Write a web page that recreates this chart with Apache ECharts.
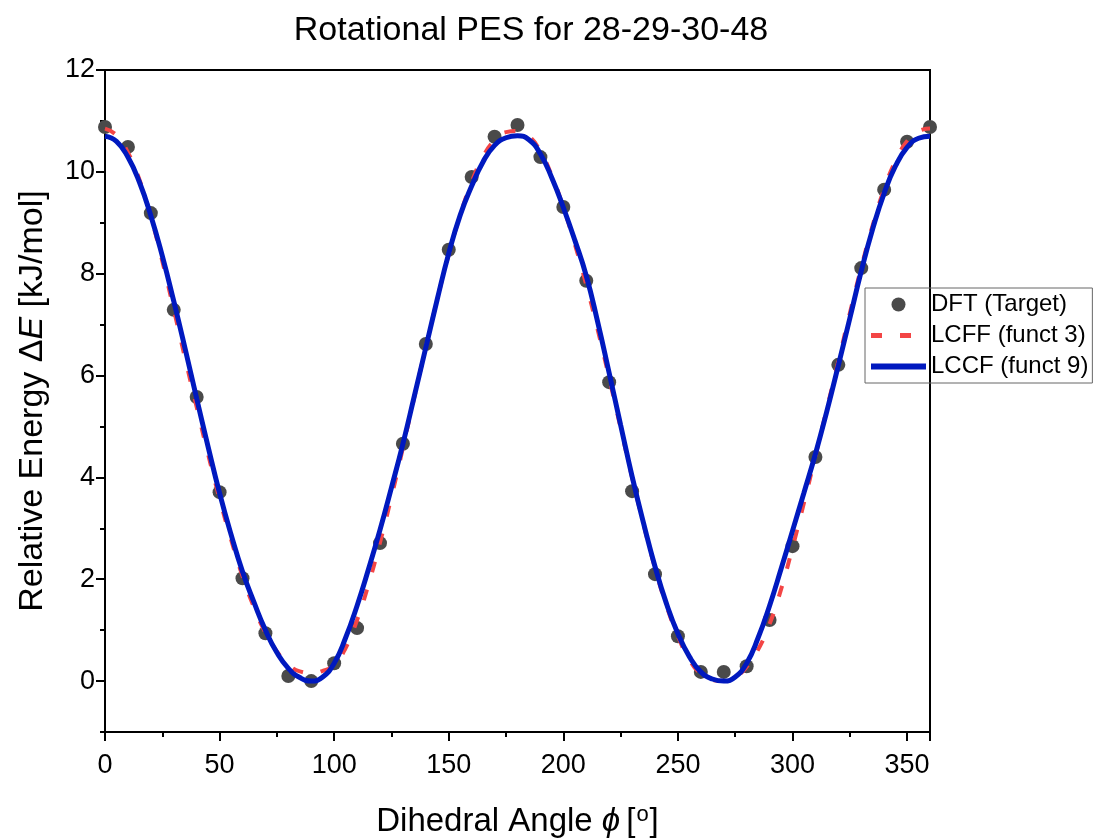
<!DOCTYPE html>
<html>
<head>
<meta charset="utf-8">
<script src="https://cdn.jsdelivr.net/npm/echarts@6/dist/echarts.min.js"></script>
<style>
  html, body { margin: 0; padding: 0; background: #fff; }
  #main { width: 1098px; height: 840px; }
</style>
</head>
<body>
<div id="main"></div>
<script>
// DFT scan, every 10 degrees
var dftAngles = [0, 10, 20, 30, 40, 50, 60, 70, 80, 90, 100, 110, 120, 130, 140, 150, 160, 170, 180,
  190, 200, 210, 220, 230, 240, 250, 260, 270, 280, 290, 300, 310, 320, 330, 340, 350, 360];
var dftEnergy = [10.88, 10.49, 9.19, 7.29, 5.58, 3.71, 2.02, 0.94, 0.10, 0.00, 0.35, 1.04, 2.71, 4.66, 6.62, 8.47, 9.90, 10.69, 10.92,
  10.29, 9.31, 7.86, 5.87, 3.73, 2.10, 0.88, 0.18, 0.18, 0.29, 1.20, 2.65, 4.40, 6.21, 8.11, 9.65, 10.59, 10.88];

// fitted curves, every 5 degrees
var fitAngles = [0, 5, 10, 15, 20, 25, 30, 35, 40, 45, 50, 55, 60, 65, 70, 75, 80, 85, 90,
  95, 100, 105, 110, 115, 120, 125, 130, 135, 140, 145, 150, 155, 160, 165, 170, 175, 180,
  185, 190, 195, 200, 205, 210, 215, 220, 225, 230, 235, 240, 245, 250, 255, 260, 265, 270,
  275, 280, 285, 290, 295, 300, 305, 310, 315, 320, 325, 330, 335, 340, 345, 350, 355, 360];
var lcff = [10.85, 10.72, 10.38, 9.85, 9.12, 8.25, 7.30, 6.33, 5.38, 4.45, 3.58, 2.78, 2.06, 1.45, 0.95, 0.58, 0.33, 0.19, 0.16,
  0.20, 0.32, 0.65, 1.20, 1.90, 2.72, 3.62, 4.58, 5.58, 6.56, 7.50, 8.38, 9.15, 9.80, 10.30, 10.62, 10.78, 10.80,
  10.70, 10.40, 9.92, 9.30, 8.58, 7.78, 6.90, 5.95, 4.97, 4.00, 3.08, 2.22, 1.48, 0.88, 0.42, 0.14, 0.02, 0.00,
  0.08, 0.28, 0.62, 1.12, 1.80, 2.62, 3.50, 4.42, 5.35, 6.28, 7.22, 8.12, 8.95, 9.66, 10.22, 10.60, 10.80, 10.85];
var lccf = [10.70, 10.60, 10.29, 9.80, 9.14, 8.35, 7.46, 6.52, 5.55, 4.60, 3.69, 2.88, 2.15, 1.55, 1.00, 0.56, 0.25, 0.07, 0.00,
  0.08, 0.35, 0.85, 1.48, 2.20, 2.97, 3.80, 4.66, 5.60, 6.55, 7.50, 8.40, 9.15, 9.72, 10.20, 10.52, 10.67, 10.71,
  10.63, 10.35, 9.88, 9.30, 8.66, 7.96, 7.05, 6.05, 5.03, 4.02, 3.10, 2.25, 1.52, 0.93, 0.48, 0.18, 0.04, 0.00,
  0.08, 0.35, 0.85, 1.48, 2.20, 2.95, 3.70, 4.46, 5.30, 6.20, 7.12, 8.05, 8.88, 9.58, 10.12, 10.48, 10.66, 10.70];

var yMajor = [0, 2, 4, 6, 8, 10, 12];
var yMinor = [-1, 1, 3, 5, 7, 9, 11];

function pairs(xs, ys) {
  return xs.map(function (x, i) { return [x, ys[i]]; });
}

var font = '"Liberation Sans", Arial, sans-serif';
var chart = echarts.init(document.getElementById('main'));

var option = {
  animation: false,
  textStyle: { fontFamily: font, color: '#000' },
  title: {
    text: 'Rotational PES for 28-29-30-48',
    left: 526,
    top: 9,
    textAlign: 'center',
    textStyle: { fontFamily: font, fontSize: 34, fontWeight: 'normal', color: '#000' }
  },
  grid: {
    left: 105, right: 168, top: 70, bottom: 108,
    outerBoundsMode: 'none',
    show: true, borderColor: '#000', borderWidth: 2, backgroundColor: 'transparent'
  },
  legend: {
    orient: 'vertical',
    left: 865,
    top: 288,
    itemWidth: 55,
    itemHeight: 14,
    itemGap: 6,
    padding: [4, 4, 4, 3],
    borderColor: '#666',
    borderWidth: 1,
    textStyle: { fontFamily: font, fontSize: 24, color: '#000', lineHeight: 25 },
    data: [
      { name: 'DFT (Target)', icon: 'circle' },
      { name: 'LCFF (funct 3)', itemStyle: { color: 'transparent', borderWidth: 0 },
        lineStyle: { width: 5, type: [11, 18] } },
      { name: 'LCCF (funct 9)', itemStyle: { color: 'transparent', borderWidth: 0 },
        lineStyle: { width: 6 } }
    ]
  },
  xAxis: {
    type: 'value',
    min: 0, max: 360, interval: 50,
    name: '{n|Dihedral Angle }{i|ϕ}{n|[}{s|o}{n|]}',
    nameLocation: 'middle',
    nameGap: 72,
    nameTextStyle: {
      rich: {
        n: { fontFamily: font, fontSize: 33, color: '#000' },
        i: { fontFamily: font, fontSize: 33, fontStyle: 'italic', color: '#000', padding: [0, 6, 0, 0] },
        s: { fontFamily: font, fontSize: 22, color: '#000', padding: [0, 1, 14, 1], verticalAlign: 'bottom' }
      }
    },
    axisLine: { show: true, onZero: false, lineStyle: { color: '#000', width: 2 } },
    axisTick: { show: true, length: 9, lineStyle: { color: '#000', width: 2 } },
    minorTick: { show: true, splitNumber: 2, length: 5, lineStyle: { color: '#000', width: 2 } },
    axisLabel: { fontFamily: font, fontSize: 27, color: '#000', margin: 20, showMaxLabel: false },
    splitLine: { show: false }
  },
  yAxis: [
    {
      type: 'value',
      min: -1, max: 12,
      position: 'left',
      name: '{n|Relative Energy }{n|Δ}{i|E}{n| [kJ/mol]}',
      nameLocation: 'middle',
      nameGap: 55,
      nameTextStyle: {
        rich: {
          n: { fontFamily: font, fontSize: 34, color: '#000' },
          i: { fontFamily: font, fontSize: 34, fontStyle: 'italic', color: '#000' }
        }
      },
      axisLine: { show: true, onZero: false, lineStyle: { color: '#000', width: 2 } },
      axisTick: { show: true, length: 9, customValues: yMajor, lineStyle: { color: '#000', width: 2 } },
      axisLabel: { fontFamily: font, fontSize: 27, color: '#000', margin: 10, customValues: yMajor },
      splitLine: { show: false }
    },
    {
      type: 'value',
      min: -1, max: 12,
      position: 'left',
      offset: 0,
      axisLine: { show: false },
      axisTick: { show: true, length: 5, customValues: yMinor, lineStyle: { color: '#000', width: 2 } },
      axisLabel: { show: false },
      splitLine: { show: false }
    }
  ],
  series: [
    {
      name: 'DFT (Target)',
      type: 'scatter',
      symbol: 'circle',
      symbolSize: 14,
      itemStyle: { color: '#4a4a4a', opacity: 1 },
      data: pairs(dftAngles, dftEnergy)
    },
    {
      name: 'LCFF (funct 3)',
      type: 'line',
      smooth: true,
      symbol: 'none',
      showSymbol: false,
      itemStyle: { color: '#f34545' },
      lineStyle: { color: '#f34545', width: 4, type: [11, 18] },
      data: pairs(fitAngles, lcff)
    },
    {
      name: 'LCCF (funct 9)',
      type: 'line',
      smooth: true,
      symbol: 'none',
      showSymbol: false,
      itemStyle: { color: '#0019bf' },
      lineStyle: { color: '#0019bf', width: 5 },
      data: pairs(fitAngles, lccf)
    }
  ]
};

option && chart.setOption(option);
</script>
</body>
</html>
